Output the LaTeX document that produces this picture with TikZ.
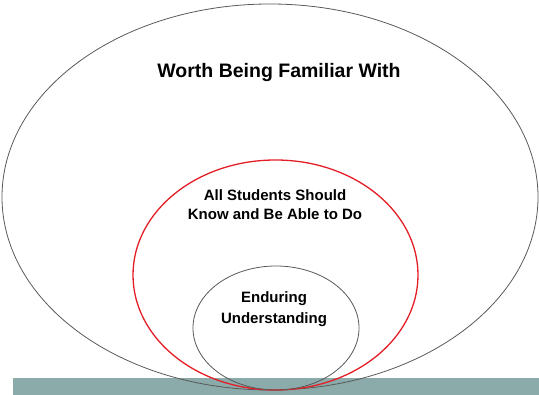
\documentclass[tikz,border=0pt]{standalone}
\usepackage{fontspec}
\setmainfont{Liberation Sans}
\definecolor{floorteal}{RGB}{138,171,170}
\definecolor{ringred}{RGB}{228,30,38}

\begin{document}
\begin{tikzpicture}[x=1pt,y=-1pt,
    ring/.style={draw=black!65,line width=0.8pt},
    core/.style={draw=ringred,line width=1.3pt},
    label/.style={font={\fontsize{15}{19}\selectfont\bfseries},align=center}]
\useasboundingbox (0,0) rectangle (539,395);
\fill[floorteal] (13,378) rectangle (539,395);

\draw[ring] (270,197) ellipse [x radius=268,y radius=193];
\draw[core] (275.5,275) ellipse [x radius=142.5,y radius=115];
\draw[ring] (276,328) ellipse [x radius=83,y radius=62];

\node[label,font={\fontsize{19.5}{23}\selectfont\bfseries}] (worth) at (279,73) {Worth Being Familiar With};
\node[label] (know) at (275,205) {All Students Should\\Know and Be Able to Do};
\node[label,font={\fontsize{15}{21.5}\selectfont\bfseries}] (endur) at (274,309) {Enduring\\Understanding};
\end{tikzpicture}
\end{document}
